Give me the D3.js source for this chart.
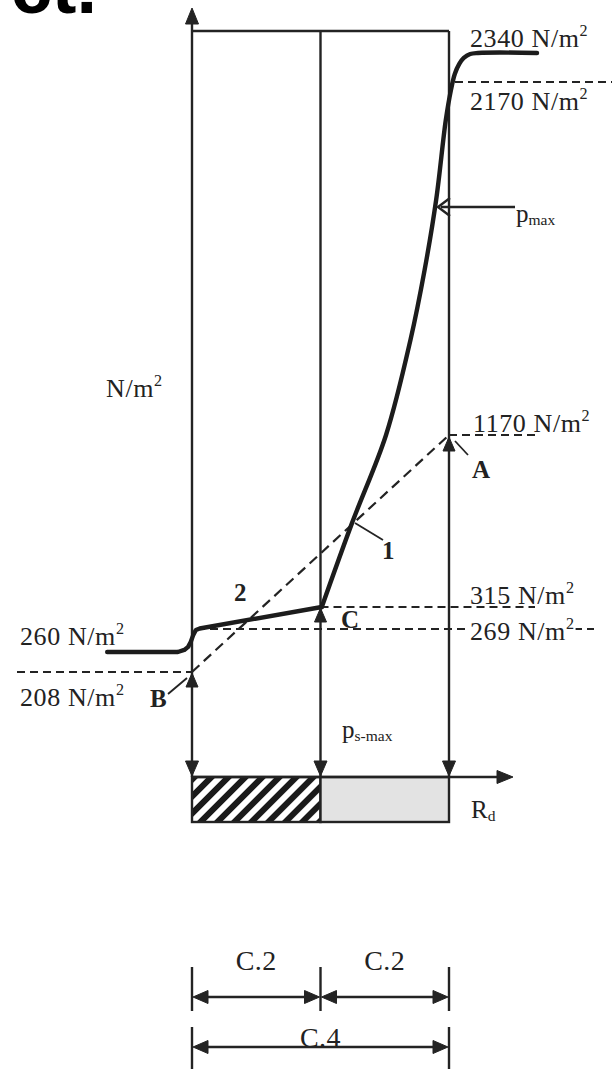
<!DOCTYPE html>
<html><head><meta charset="utf-8">
<script src="https://cdn.jsdelivr.net/npm/d3@7"></script>
<style>html,body{margin:0;padding:0;background:#fff;} svg{display:block;}</style>
</head><body>
<script>
// ---- data ----
// pressure levels (N/m²) that are marked on the chart
const levelValues = [2340, 2170, 1170, 315, 269, 260, 208];
const levelLabels = ["2340", "2170", "1170", "315", "269", "260", "208"];
// measured curve: position along R_d (C units) and pressure (N/m²)
const curveR = [-1.32, -0.22, -0.12, -0.06, -0.02, 0.02, 0.06, 0.12, 2.02, 2.49, 3.02, 3.40, 3.62, 3.80, 3.95, 4.03, 4.09, 4.16, 4.23, 4.33, 4.45, 5.37];
const curveP = [260, 260, 260.8, 262.0, 263.9, 266.7, 268.6, 270, 315, 732, 1170, 1439, 1637, 1836, 2062, 2147, 2217, 2276, 2311, 2334, 2340, 2340];
// index of point C, where the curve changes slope sharply
const cornerIndex = 8;
// straight reference line B -> A
const lineR = [0, 4];
const lineP = [208, 1170];
// column positions (C units)
const columns = [0, 2, 4];
const spanLabels = ["C.2", "C.2", "C.4"];

const W = 612, H = 1069;
const svg = d3.select("body").append("svg").attr("width", W).attr("height", H);
const ink = "#232323";
const serif = "'Liberation Serif','Times New Roman',serif";

const x = d3.scaleLinear().domain([0, 4]).range([192, 449]);
// schematic (non-uniform) pressure axis
const y = d3.scaleLinear()
  .domain([208, 260, 269, 315, 1170, 2170, 2340])
  .range([672, 652, 629, 607, 435, 82, 53]);

// clipped title fragment at top-left
svg.append("text").attr("x", 97).attr("y", 13).attr("text-anchor", "end")
  .attr("font-family", "'Liberation Sans',Arial,sans-serif").attr("font-weight", "bold")
  .attr("font-size", 74).attr("fill", "#000").text("ct.");

const defs = svg.append("defs");
const pat = defs.append("pattern").attr("id", "hatch").attr("patternUnits", "userSpaceOnUse")
  .attr("width", 12).attr("height", 12).attr("patternTransform", "rotate(45)");
pat.append("rect").attr("width", 12).attr("height", 12).attr("fill", "#fff");
pat.append("rect").attr("width", 6).attr("height", 12).attr("fill", "#1a1a1a");

const yAxisBase = 777, barBottom = 822, topLine = 31;
const SW = 2.4;

// bar at the bottom
svg.append("rect").attr("x", x(0)).attr("y", yAxisBase).attr("width", x(2) - x(0)).attr("height", barBottom - yAxisBase)
  .attr("fill", "url(#hatch)").attr("stroke", ink).attr("stroke-width", SW);
svg.append("rect").attr("x", x(2)).attr("y", yAxisBase).attr("width", x(4) - x(2)).attr("height", barBottom - yAxisBase)
  .attr("fill", "#e3e3e3").attr("stroke", ink).attr("stroke-width", SW);

function tri(cx, cy, dir, len = 14, half = 6) {
  let p;
  if (dir === "up") p = [[cx, cy], [cx - half, cy + len], [cx + half, cy + len]];
  if (dir === "down") p = [[cx, cy], [cx - half, cy - len], [cx + half, cy - len]];
  if (dir === "left") p = [[cx, cy], [cx + len, cy - half], [cx + len, cy + half]];
  if (dir === "right") p = [[cx, cy], [cx - len, cy - half], [cx - len, cy + half]];
  svg.append("path").attr("d", d3.line()(p) + "Z").attr("fill", ink).attr("stroke", ink).attr("stroke-width", 1);
}

// verticals
svg.append("line").attr("x1", x(0)).attr("x2", x(0)).attr("y1", 12).attr("y2", yAxisBase).attr("stroke", ink).attr("stroke-width", SW);
tri(x(0), 8, "up", 16, 6.5);
svg.append("line").attr("x1", x(0)).attr("x2", x(4)).attr("y1", topLine).attr("y2", topLine).attr("stroke", ink).attr("stroke-width", SW);
[2, 4].forEach(c => svg.append("line").attr("x1", x(c)).attr("x2", x(c)).attr("y1", topLine).attr("y2", yAxisBase).attr("stroke", ink).attr("stroke-width", SW));
columns.forEach(c => tri(x(c), yAxisBase - 1, "down", 15, 6.5));
// horizontal R_d axis
svg.append("line").attr("x1", x(0)).attr("x2", 505).attr("y1", yAxisBase).attr("y2", yAxisBase).attr("stroke", ink).attr("stroke-width", SW);
tri(513, yAxisBase, "right", 16, 6.5);

// dashed reference lines
const dashSpec = [
  { v: 2170, x0: 455, x1: 612 },
  { v: 1170, x0: x(4), x1: 537 },
  { v: 315, x0: x(2), x1: 535 },
  { v: 269, x0: 197, x1: 594 },
  { v: 208, x0: 17, x1: x(0) }
];
dashSpec.forEach(d => svg.append("line").attr("x1", d.x0).attr("x2", d.x1).attr("y1", y(d.v)).attr("y2", y(d.v))
  .attr("stroke", ink).attr("stroke-width", 2.2).attr("stroke-dasharray", "8,5"));

// B -> A dashed line
svg.append("path").attr("d", d3.line().x((d, i) => x(lineR[i])).y((d, i) => y(lineP[i]))(lineR))
  .attr("fill", "none").attr("stroke", ink).attr("stroke-width", 2.2).attr("stroke-dasharray", "10,6");

// main curve: straight part up to C, smooth part after C
const curvePts = curveR.map((r, i) => [x(r), y(curveP[i])]);
const lowPart = curvePts.slice(0, cornerIndex + 1);
const highPart = curvePts.slice(cornerIndex);
[[lowPart, d3.curveLinear], [highPart, d3.curveCatmullRom.alpha(0.5)]].forEach(([pts, cv]) =>
  svg.append("path").attr("d", d3.line().curve(cv)(pts))
    .attr("fill", "none").attr("stroke", "#1c1c1c").attr("stroke-width", 4.4)
    .attr("stroke-linejoin", "round").attr("stroke-linecap", "round"));

// up arrows at B, C, A
tri(x(0), y(208) + 1, "up", 14, 6);
tri(x(2), y(315) + 1, "up", 14, 6);
tri(x(4), y(1170) + 2, "up", 14, 6);

// p_max arrow
svg.append("line").attr("x1", 441).attr("x2", 515).attr("y1", 207).attr("y2", 207).attr("stroke", ink).attr("stroke-width", SW);
svg.append("path").attr("d", "M450,198 L438,207 L450,216").attr("fill", "none").attr("stroke", ink).attr("stroke-width", 2.4);

// leader lines
const leaders = [[455, 441, 468, 455], [355, 523, 383, 540], [187, 678, 168, 694]];
leaders.forEach(l => svg.append("line").attr("x1", l[0]).attr("y1", l[1]).attr("x2", l[2]).attr("y2", l[3]).attr("stroke", ink).attr("stroke-width", 1.8));

// unit labels
const FS = 26;
function unitLabel(xp, yp, num, bg) {
  const g = svg.append("g");
  const t = g.append("text").attr("x", xp).attr("y", yp).attr("font-family", serif).attr("font-size", FS)
    .attr("letter-spacing", 0.6).attr("fill", "#222");
  t.append("tspan").text(num + " N/m");
  t.append("tspan").attr("font-size", FS * 0.62).attr("dy", -FS * 0.42).text("2");
  if (bg) {
    const b = t.node().getBBox();
    g.insert("rect", "text").attr("x", b.x - 1).attr("y", b.y + 6).attr("width", b.width + 2).attr("height", b.height - 6).attr("fill", "#fff");
  }
}
const labelPos = {
  "2340": [470, 47], "2170": [470, 110], "1170": [473, 432], "315": [470, 604],
  "269": [470, 640], "260": [20, 645], "208": [20, 706]
};
levelLabels.forEach(l => unitLabel(labelPos[l][0], labelPos[l][1], l, l === "269"));
// axis unit
(function () {
  const t = svg.append("text").attr("x", 106).attr("y", 397).attr("font-family", serif).attr("font-size", FS)
    .attr("letter-spacing", 0.6).attr("fill", "#222");
  t.append("tspan").text("N/m");
  t.append("tspan").attr("font-size", FS * 0.62).attr("dy", -FS * 0.42).text("2");
})();

function subLabel(xp, yp, main, sub, fs = 25) {
  const t = svg.append("text").attr("x", xp).attr("y", yp).attr("font-family", serif).attr("font-size", fs).attr("fill", "#222");
  t.append("tspan").text(main);
  t.append("tspan").attr("font-size", fs * 0.62).attr("dy", 3).text(sub);
}
subLabel(516, 222, "p", "max");
subLabel(342, 738, "p", "s-max");
subLabel(471, 818, "R", "d");

// bold point labels
const pts = [["A", 472, 478], ["B", 150, 707], ["C", 341, 628], ["1", 382, 559], ["2", 234, 601]];
pts.forEach(p => svg.append("text").attr("x", p[1]).attr("y", p[2]).attr("font-family", serif).attr("font-weight", "bold")
  .attr("font-size", 25).attr("fill", "#222").text(p[0]));

// dimension lines at the bottom
function dimTick(xp, y0, y1) {
  svg.append("line").attr("x1", xp).attr("x2", xp).attr("y1", y0).attr("y2", y1).attr("stroke", ink).attr("stroke-width", SW);
}
const dims = [
  { a: 0, b: 2, yl: 997, label: spanLabels[0], ly: 970 },
  { a: 2, b: 4, yl: 997, label: spanLabels[1], ly: 970 },
  { a: 0, b: 4, yl: 1047, label: spanLabels[2], ly: 1047 }
];
dims.forEach(d => {
  const x0 = x(d.a), x1 = x(d.b);
  svg.append("line").attr("x1", x0 + 4).attr("x2", x1 - 4).attr("y1", d.yl).attr("y2", d.yl).attr("stroke", ink).attr("stroke-width", SW);
  tri(x0 + 1, d.yl, "left", 15, 6.5);
  tri(x1 - 1, d.yl, "right", 15, 6.5);
  svg.append("text").attr("x", (x0 + x1) / 2).attr("y", d.ly).attr("text-anchor", "middle")
    .attr("font-family", serif).attr("font-size", 28).attr("letter-spacing", 0.5).attr("fill", "#222").text(d.label);
});
columns.forEach(c => dimTick(x(c), 967, 1011));
[0, 4].forEach(c => dimTick(x(c), 1027, 1069));
</script>
</body></html>
